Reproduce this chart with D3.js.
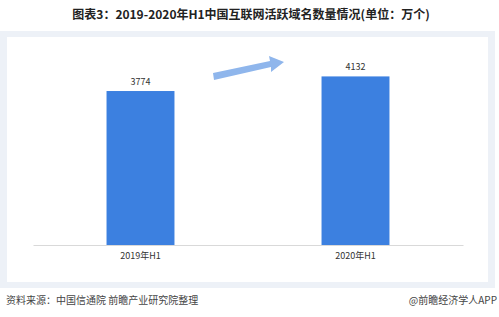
<!DOCTYPE html>
<meta charset="utf-8">
<style>
  body { margin: 0; overflow: hidden; background: #fff; }
  text { font-family: "Noto Sans CJK SC", "Microsoft YaHei", sans-serif; }
</style>
<body></body>
<script src="https://cdn.jsdelivr.net/npm/d3@7"></script>
<script>

var categories = ["2019年H1", "2020年H1"],
    values = [3774, 4132];

var width = 499, height = 317;

var svg = d3.select("body").append("svg")
    .attr("width", width)
    .attr("height", height);

// title
svg.append("text")
    .attr("x", 251)
    .attr("y", 19)
    .attr("text-anchor", "middle")
    .style("font-size", "12px")
    .style("font-weight", "bold")
    .style("fill", "#222")
    .text("图表3：2019-2020年H1中国互联网活跃域名数量情况(单位：万个)");

// panel
svg.append("rect")
    .attr("x", 0).attr("y", 31)
    .attr("width", 495).attr("height", 257)
    .style("fill", "#edf1f7");
svg.append("rect")
    .attr("x", 7).attr("y", 37)
    .attr("width", 481).attr("height", 245)
    .style("fill", "#fff");

var x = d3.scaleBand()
    .domain(categories)
    .range([33, 463])
    .paddingInner(0.684)
    .paddingOuter(0.342);

var y = d3.scaleLinear()
    .domain([0, 4500])
    .range([245, 61.4]);

svg.append("g").selectAll("rect")
    .data(values)
  .enter().append("rect")
    .attr("x", (d, i) => x(categories[i]))
    .attr("y", d => y(d))
    .attr("width", x.bandwidth())
    .attr("height", d => y(0) - y(d))
    .style("fill", "#3c80e0");

svg.append("g").selectAll("text")
    .data(values)
  .enter().append("text")
    .attr("x", (d, i) => x(categories[i]) + x.bandwidth() / 2)
    .attr("y", d => y(d) - 6)
    .attr("text-anchor", "middle")
    .style("font-size", "9px")
    .style("fill", "#333")
    .text(d => d);

var xAxis = svg.append("g")
    .attr("transform", "translate(0,245)")
    .call(d3.axisBottom(x).tickSize(0).tickPadding(8));
xAxis.select(".domain").style("stroke", "#d9d9d9");
xAxis.selectAll("text")
    .style("font-size", "9px")
    .style("fill", "#333")
    .style("font-family", "'Noto Sans CJK SC', sans-serif");

// growth arrow
svg.append("path")
    .attr("d", "M213,73 L270,61 L269,56 L284,62 L271,72 L271,67 L214,80 Z")
    .style("fill", "#8fb6ec");

// footer
svg.append("text")
    .attr("x", 6)
    .attr("y", 304)
    .style("font-size", "10px")
    .style("fill", "#444")
    .text("资料来源：中国信通院  前瞻产业研究院整理");

svg.append("text")
    .attr("x", 497)
    .attr("y", 304)
    .attr("text-anchor", "end")
    .style("font-size", "10px")
    .style("fill", "#444")
    .text("@前瞻经济学人APP");
</script>
